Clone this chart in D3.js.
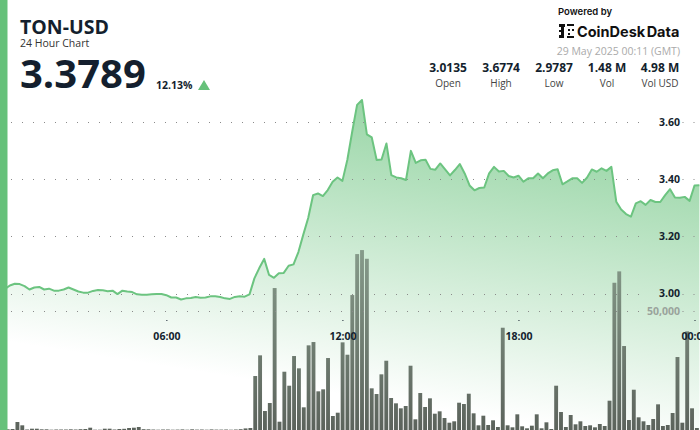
<!DOCTYPE html>
<html>
<head>
<meta charset="utf-8">
<script src="https://cdn.jsdelivr.net/npm/d3@7"></script>
<style>
  html, body { margin: 0; padding: 0; background: #fff; overflow: hidden; }
  text { font-family: "Open Sans", sans-serif; fill: #141f2e; }
  .bold { font-weight: 700; }
  .logo { font-family: Inter, sans-serif; fill: #111; }
</style>
</head>
<body>
<div id="chart"></div>
<script>
// prices, one every 10 minutes from 00:30
const prices = [
  3.016, 3.028, 3.034, 3.033, 3.026, 3.014, 3.021, 3.023, 3.014, 3.017,
  3.010, 3.010, 3.014, 3.021, 3.014, 3.007, 3.003, 3.003, 3.009, 3.012,
  3.011, 3.008, 3.010, 2.998, 3.010, 3.007, 3.005, 2.997, 2.996, 2.996,
  2.997, 2.998, 2.998, 2.994, 2.986, 2.986, 2.979, 2.983, 2.984, 2.988,
  2.985, 2.986, 2.990, 2.990, 2.988, 2.983, 2.981, 2.988, 2.990, 2.989,
  2.997, 3.053, 3.089, 3.121, 3.065, 3.055, 3.071, 3.072, 3.097, 3.102,
  3.145, 3.206, 3.264, 3.344, 3.350, 3.341, 3.362, 3.391, 3.406, 3.394,
  3.467, 3.566, 3.660, 3.677, 3.557, 3.546, 3.467, 3.469, 3.525, 3.414,
  3.406, 3.403, 3.397, 3.499, 3.457, 3.466, 3.468, 3.436, 3.433, 3.455,
  3.434, 3.413, 3.432, 3.453, 3.420, 3.378, 3.361, 3.369, 3.371, 3.420,
  3.443, 3.427, 3.429, 3.411, 3.406, 3.412, 3.391, 3.403, 3.403, 3.420,
  3.403, 3.420, 3.431, 3.435, 3.382, 3.392, 3.403, 3.403, 3.387, 3.405,
  3.434, 3.426, 3.438, 3.429, 3.443, 3.321, 3.294, 3.278, 3.269, 3.315,
  3.323, 3.310, 3.327, 3.320, 3.320, 3.344, 3.365, 3.336, 3.335, 3.338,
  3.324, 3.378, 3.379
];

const volumes = [
  300, 420, 3360, 1970, 210, 550, 550, 290, 290, 130,
  210, 210, 210, 290, 210, 340, 420, 970, 130, 130,
  550, 550, 210, 420, 500, 840, 970, 1260, 340, 290,
  200, 130, 210, 210, 130, 170, 250, 130, 290, 170,
  210, 130, 250, 170, 170, 210, 130, 210, 340, 670,
  840, 22680, 31370, 7980, 11340, 59640, 3490, 24490, 18610, 31080,
  25910, 9530, 35570, 36960, 16250, 17090, 30240, 5880, 7270, 36830,
  31630, 56700, 73920, 75600, 71950, 17510, 15120, 23390, 29110, 13440,
  11210, 9110, 10080, 27010, 4490, 15540, 9660, 13310, 6850, 7850,
  5040, 3070, 3650, 11470, 10920, 15250, 7010, 1970, 6010, 2100,
  4070, 1260, 42970, 1970, 1130, 6590, 1550, 710, 1810, 6590,
  710, 3230, 420, 18610, 7560, 1260, 6300, 2390, 3650, 1680,
  1970, 1130, 2520, 1680, 12310, 61870, 66650, 35280, 4200, 16930,
  5330, 3650, 2100, 4620, 10790, 1680, 2100, 7140, 30660, 3070,
  41450, 9110, 840
];

const priceTicks = [3.0, 3.2, 3.4, 3.6];
const volumeTicks = [50000];
const hourTicks = [6, 12, 18, 24];
const statValues = ["3.0135", "3.6774", "2.9787", "1.48 M", "4.98 M"];
const statLabels = ["Open", "High", "Low", "Vol", "Vol USD"];

const GREEN = "#66c17a";
const width = 700, height = 430;

const svg = d3.select("#chart").append("svg")
  .attr("width", width)
  .attr("height", height)
  .style("display", "block");

const defs = svg.append("defs");

// the fill leans a little, it is stronger towards the right
const areaFill = defs.append("linearGradient")
  .attr("id", "areaFill")
  .attr("gradientUnits", "userSpaceOnUse")
  .attr("x1", 600).attr("y1", 435)
  .attr("x2", 664).attr("y2", 28);
areaFill.append("stop").attr("offset", 0).attr("stop-color", GREEN).attr("stop-opacity", 0);
areaFill.append("stop").attr("offset", 1).attr("stop-color", GREEN).attr("stop-opacity", 0.93);

const barFill = defs.append("linearGradient")
  .attr("id", "barFill")
  .attr("gradientUnits", "userSpaceOnUse")
  .attr("x1", 0).attr("y1", 430)
  .attr("x2", 0).attr("y2", 250);
barFill.append("stop").attr("offset", 0).attr("stop-color", "#5c635c");
barFill.append("stop").attr("offset", 1).attr("stop-color", "#869b8a");

const indexes = d3.range(prices.length);
const x = d3.scaleLinear().domain([0, prices.length - 1]).range([5, 699.4]);
const xHours = d3.scaleLinear().domain([0.5, 0.5 + (prices.length - 1) / 6]).range([5, 699.4]);
const xBars = d3.scaleBand().domain(indexes).range([4.8, 699.8]).padding(0.2);
const y = d3.scaleLinear().domain([3.0, 3.6]).range([293.5, 122]);
const yVol = d3.scaleLinear().domain([0, 50000]).range([430, 311]);

// price area
const area = d3.area()
  .x((d, i) => x(i))
  .y0(height)
  .y1(d => y(d));
svg.append("path")
  .datum(prices)
  .attr("d", area)
  .attr("fill", "url(#areaFill)");

// volume bars
svg.append("g")
  .selectAll("rect")
  .data(volumes)
  .join("rect")
  .attr("x", (d, i) => xBars(i))
  .attr("y", d => yVol(d))
  .attr("width", xBars.bandwidth())
  .attr("height", d => yVol(0) - yVol(d))
  .attr("fill", "url(#barFill)");

// dotted grid, broken where the labels sit
const gridRows = priceTicks.map(y).concat(volumeTicks.map(yVol));
[[11, 645], [682.5, 700]].forEach(([from, to]) => {
  svg.append("g")
    .selectAll("line")
    .data(gridRows)
    .join("line")
    .attr("x1", from)
    .attr("x2", to)
    .attr("y1", d => Math.round(d) + 0.5)
    .attr("y2", d => Math.round(d) + 0.5)
    .attr("stroke", "#8a8a8a")
    .attr("stroke-dasharray", "1 10");
});

// price line
const line = d3.line()
  .x((d, i) => x(i))
  .y(d => y(d));
svg.append("path")
  .datum(prices)
  .attr("d", line)
  .attr("fill", "none")
  .attr("stroke", "#6cc480")
  .attr("stroke-width", 2)
  .attr("stroke-linejoin", "round");

// price axis
const priceAxis = svg.append("g")
  .attr("transform", "translate(680,0)")
  .call(d3.axisLeft(y).tickValues(priceTicks).tickFormat(d3.format(".2f")).tickSize(0).tickPadding(0));
priceAxis.select(".domain").remove();
priceAxis.selectAll("text")
  .attr("class", "bold")
  .style("font-family", '"Open Sans", sans-serif')
  .style("font-size", "10.5px");

const volAxis = svg.append("g")
  .attr("transform", "translate(680,0)")
  .call(d3.axisLeft(yVol).tickValues(volumeTicks).tickFormat(d3.format(",")).tickSize(0).tickPadding(0));
volAxis.select(".domain").remove();
volAxis.selectAll("text")
  .attr("class", "bold")
  .style("font-family", '"Open Sans", sans-serif')
  .style("font-size", "10.5px")
  .style("fill", "#9aa39c");

// time axis
const timeAxis = svg.append("g")
  .attr("transform", "translate(0,320)")
  .call(d3.axisBottom(xHours)
    .tickValues(hourTicks)
    .tickFormat(d => String(d % 24).padStart(2, "0") + ":00")
    .tickSize(1)
    .tickPadding(12));
timeAxis.select(".domain").remove();
timeAxis.selectAll("line").attr("stroke", "#141f2e");
timeAxis.selectAll("text")
  .attr("class", "bold")
  .style("font-family", '"Open Sans", sans-serif')
  .style("font-size", "10.5px");

// left edge
svg.append("rect")
  .attr("width", 7.5)
  .attr("height", height)
  .attr("fill", GREEN);

// header
svg.append("text").attr("class", "bold").attr("x", 20).attr("y", 33.5)
  .style("font-size", "19.5px").text("TON-USD");
svg.append("text").attr("x", 20).attr("y", 47)
  .style("font-size", "10.5px").style("fill", "#333").text("24 Hour Chart");
svg.append("text").attr("class", "bold").attr("x", 20).attr("y", 88)
  .style("font-size", "40px").text("3.3789");
svg.append("text").attr("class", "bold").attr("x", 156).attr("y", 88.5)
  .style("font-size", "10.5px").text("12.13%");
svg.append("path").attr("d", "M198,90 L204,80 L210,90 Z").attr("fill", GREEN);

// logo
svg.append("text").attr("class", "logo").attr("x", 558).attr("y", 15)
  .style("font-size", "9.5px").style("font-weight", 600).text("Powered by");
svg.append("text").attr("class", "logo").attr("x", 577).attr("y", 37)
  .style("font-size", "14.5px").style("font-weight", 700).style("word-spacing", "-2px").text("CoinDesk Data");
const logoBlocks = [
  [559, 24, 6, 3], [567, 24, 7, 2], [561, 27, 3, 10], [559, 30, 5, 2],
  [559, 35, 5, 3], [567, 36, 7, 2], [568, 29, 2, 2], [572, 29, 2, 2], [568, 33, 2, 2]
];
svg.append("g")
  .selectAll("rect")
  .data(logoBlocks)
  .join("rect")
  .attr("x", d => d[0]).attr("y", d => d[1])
  .attr("width", d => d[2]).attr("height", d => d[3])
  .attr("fill", "#111");

svg.append("text").attr("x", 680).attr("y", 55).attr("text-anchor", "end")
  .style("font-size", "10.5px").style("fill", "#aaa").text("29 May 2025 00:11 (GMT)");

// stats row
const statX = d3.scalePoint().domain(statLabels).range([448, 660]);
svg.append("g").selectAll("text")
  .data(statValues)
  .join("text")
  .attr("class", "bold")
  .attr("x", (d, i) => statX(statLabels[i]))
  .attr("y", 72)
  .attr("text-anchor", "middle")
  .style("font-size", "12px")
  .text(d => d);
svg.append("g").selectAll("text")
  .data(statLabels)
  .join("text")
  .attr("x", d => statX(d))
  .attr("y", 87)
  .attr("text-anchor", "middle")
  .style("font-size", "10px")
  .style("fill", "#444")
  .text(d => d);
</script>
</body>
</html>
